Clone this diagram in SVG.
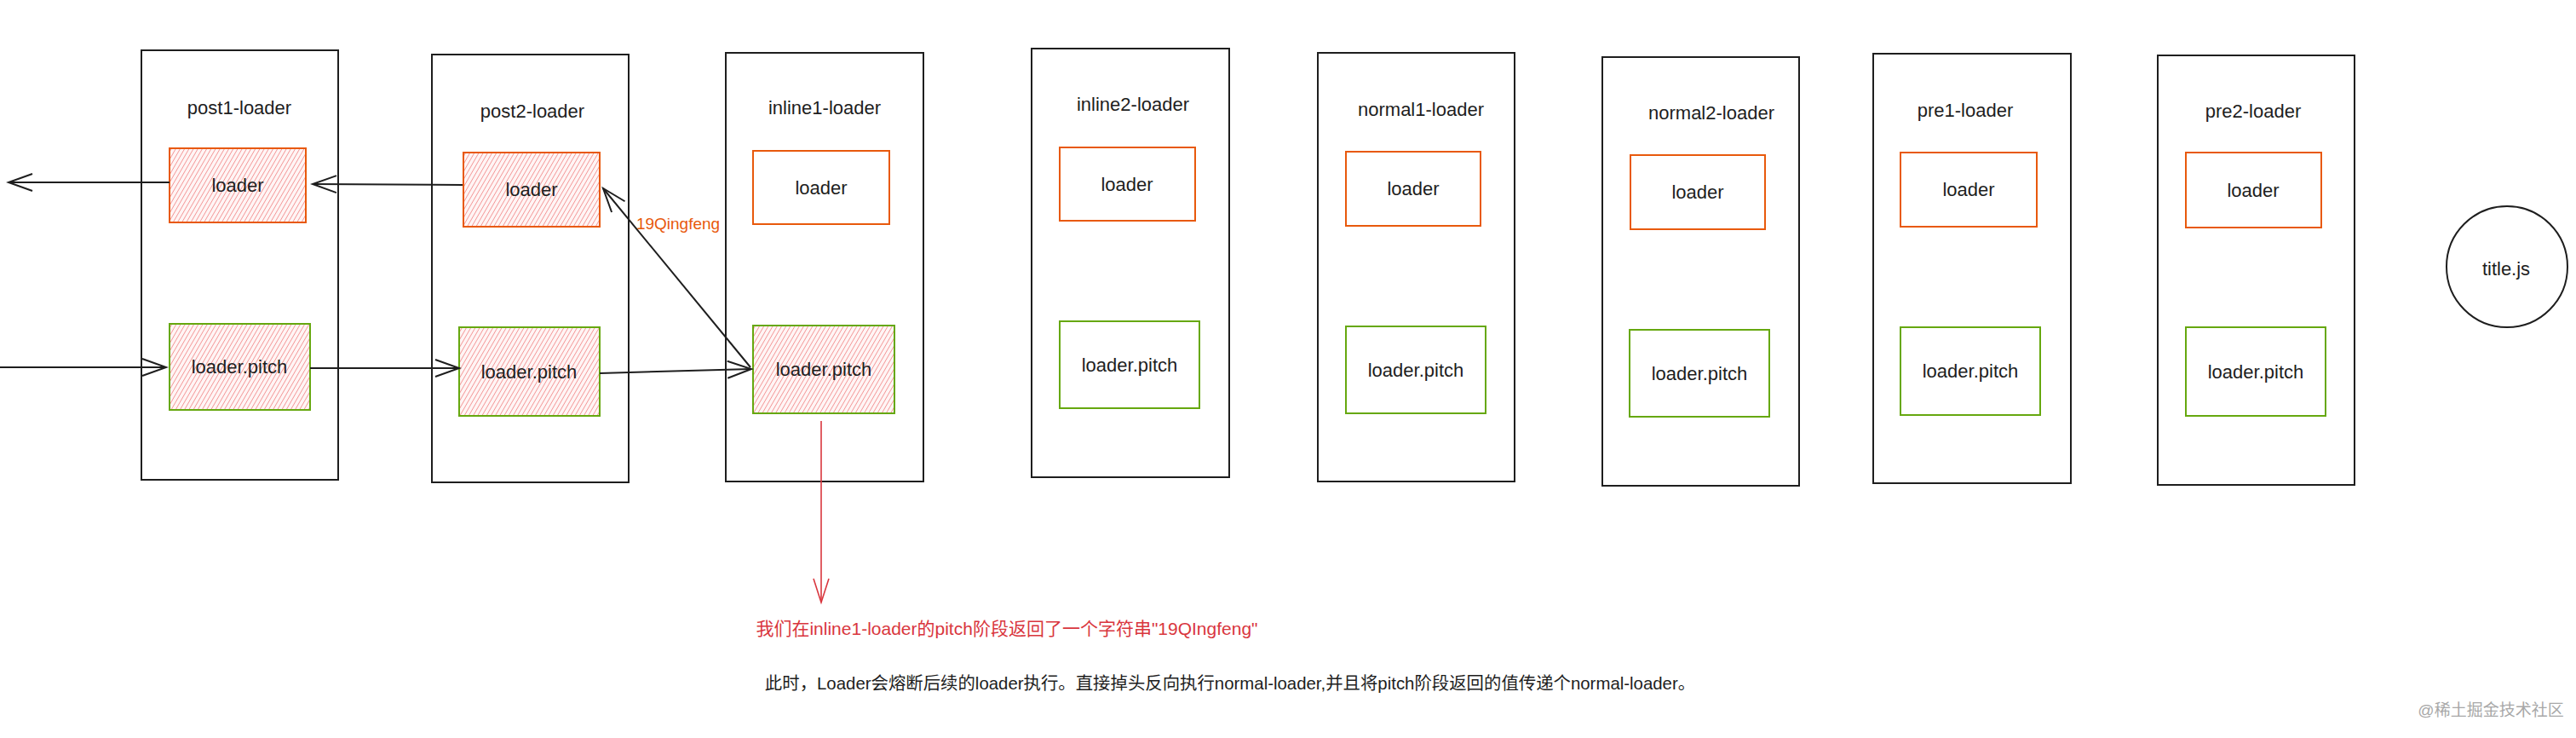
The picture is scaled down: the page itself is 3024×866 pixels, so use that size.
<svg xmlns="http://www.w3.org/2000/svg" width="3024" height="866" viewBox="0 0 3024 866">
<style>
.col{fill:#ffffff;stroke:#1e1e1e;stroke-width:2}
.ld{fill:#ffffff;stroke:#e8590c;stroke-width:2}
.ldh{fill:url(#hatch);stroke:#e8590c;stroke-width:2}
.pt{fill:#ffffff;stroke:#66a80f;stroke-width:2}
.pth{fill:url(#hatch);stroke:#66a80f;stroke-width:2}
text{font-family:"Liberation Sans","Noto Sans CJK SC",sans-serif;fill:#1e1e1e;text-anchor:middle;dominant-baseline:central}
.t{font-size:22px}
.c{stroke:#1e1e1e;stroke-width:2;fill:none}
.r{stroke:#d9363e;stroke-width:1.6;fill:none}
</style>
<defs>
<pattern id="hatch" patternUnits="userSpaceOnUse" width="4.5" height="4.5" patternTransform="rotate(30)">
<rect width="4.5" height="4.5" fill="#fff5f5"/>
<line x1="0" y1="0" x2="0" y2="4.5" stroke="#ef7474" stroke-width="1.3"/>
</pattern>
<marker id="ah" markerUnits="userSpaceOnUse" markerWidth="34" markerHeight="26" refX="31" refY="13" orient="auto">
<path d="M3,3 L31,13 L3,23" fill="none" stroke="#1e1e1e" stroke-width="2"/>
</marker>
<marker id="ahr" markerUnits="userSpaceOnUse" markerWidth="34" markerHeight="26" refX="31" refY="13" orient="auto">
<path d="M3,4 L31,13 L3,22" fill="none" stroke="#d9363e" stroke-width="1.6"/>
</marker>
</defs>
<rect width="3024" height="866" fill="#ffffff"/>

<g id="post1-loader">
<rect class="col" x="166" y="59" width="231" height="504"/>
<text class="t" x="281" y="126">post1-loader</text>
<rect class="ldh" x="199" y="174" width="160" height="87"/>
<text class="t" x="279" y="217">loader</text>
<rect class="pth" x="199" y="380" width="165" height="101"/>
<text class="t" x="281" y="430">loader.pitch</text>
</g>

<g id="post2-loader">
<rect class="col" x="507" y="64" width="231" height="502"/>
<text class="t" x="625" y="130">post2-loader</text>
<rect class="ldh" x="544" y="179" width="160" height="87"/>
<text class="t" x="624" y="222">loader</text>
<rect class="pth" x="539" y="384" width="165" height="104"/>
<text class="t" x="621" y="436">loader.pitch</text>
</g>

<g id="inline1-loader">
<rect class="col" x="852" y="62" width="232" height="503"/>
<text class="t" x="968" y="126">inline1-loader</text>
<rect class="ld" x="884" y="177" width="160" height="86"/>
<text class="t" x="964" y="220">loader</text>
<rect class="pth" x="884" y="382" width="166" height="103"/>
<text class="t" x="967" y="433">loader.pitch</text>
</g>

<g id="inline2-loader">
<rect class="col" x="1211" y="57" width="232" height="503"/>
<text class="t" x="1330" y="122">inline2-loader</text>
<rect class="ld" x="1244" y="173" width="159" height="86"/>
<text class="t" x="1323" y="216">loader</text>
<rect class="pt" x="1244" y="377" width="164" height="102"/>
<text class="t" x="1326" y="428">loader.pitch</text>
</g>

<g id="normal1-loader">
<rect class="col" x="1547" y="62" width="231" height="503"/>
<text class="t" x="1668" y="128">normal1-loader</text>
<rect class="ld" x="1580" y="178" width="158" height="87"/>
<text class="t" x="1659" y="221">loader</text>
<rect class="pt" x="1580" y="383" width="164" height="102"/>
<text class="t" x="1662" y="434">loader.pitch</text>
</g>

<g id="normal2-loader">
<rect class="col" x="1881" y="67" width="231" height="503"/>
<text class="t" x="2009" y="132">normal2-loader</text>
<rect class="ld" x="1914" y="182" width="158" height="87"/>
<text class="t" x="1993" y="225">loader</text>
<rect class="pt" x="1913" y="387" width="164" height="102"/>
<text class="t" x="1995" y="438">loader.pitch</text>
</g>

<g id="pre1-loader">
<rect class="col" x="2199" y="63" width="232" height="504"/>
<text class="t" x="2307" y="129">pre1-loader</text>
<rect class="ld" x="2231" y="179" width="160" height="87"/>
<text class="t" x="2311" y="222">loader</text>
<rect class="pt" x="2231" y="384" width="164" height="103"/>
<text class="t" x="2313" y="435">loader.pitch</text>
</g>

<g id="pre2-loader">
<rect class="col" x="2533" y="65" width="231" height="504"/>
<text class="t" x="2645" y="130">pre2-loader</text>
<rect class="ld" x="2566" y="179" width="159" height="88"/>
<text class="t" x="2645" y="223">loader</text>
<rect class="pt" x="2566" y="384" width="164" height="104"/>
<text class="t" x="2648" y="436">loader.pitch</text>
</g>

<g id="title-js">
<circle cx="2943" cy="313" r="71" fill="#ffffff" stroke="#1e1e1e" stroke-width="2"/>
<text class="t" x="2942" y="315">title.js</text>
</g>

<g id="connectors">
<line class="c" x1="199" y1="214" x2="10" y2="214" marker-end="url(#ah)"/>
<line class="c" x1="543" y1="217" x2="367" y2="216" marker-end="url(#ah)"/>
<line class="c" x1="0" y1="431" x2="195" y2="431" marker-end="url(#ah)"/>
<line class="c" x1="364" y1="432" x2="539" y2="432" marker-end="url(#ah)"/>
<line class="c" x1="704" y1="438" x2="882" y2="433" marker-end="url(#ah)"/>
<line class="c" x1="881" y1="431" x2="708" y2="221" stroke-width="1.6" marker-end="url(#ah)"/>
<text x="796" y="262" style="font-size:19px;fill:#e8590c">19Qingfeng</text>
<line class="r" x1="964" y1="494" x2="964" y2="707" marker-end="url(#ahr)"/>
</g>

<g id="notes">
<text x="1182" y="737" style="font-size:21px;fill:#d9363e">我们在inline1-loader的pitch阶段返回了一个字符串"19QIngfeng"</text>
<text x="1444" y="802" style="font-size:20.4px">此时，Loader会熔断后续的loader执行。直接掉头反向执行normal-loader,并且将pitch阶段返回的值传递个normal-loader。</text>
<text x="2924" y="833" style="font-size:19px;fill:#a8a8a8">@稀土掘金技术社区</text>
</g>
</svg>
